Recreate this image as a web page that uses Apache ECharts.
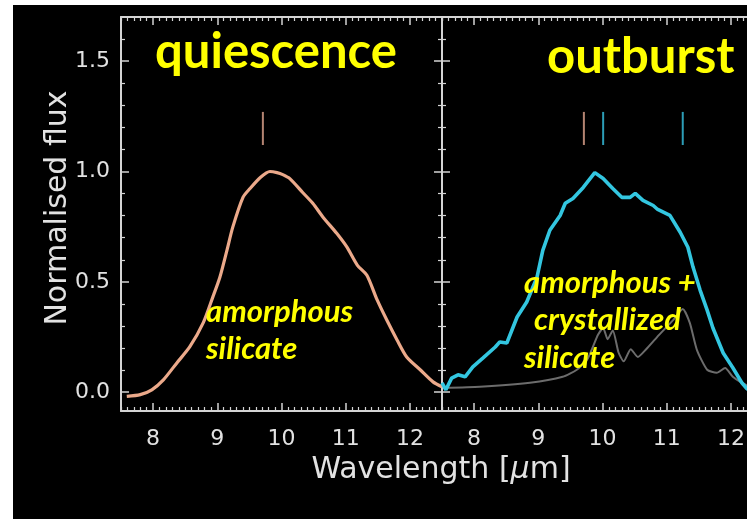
<!DOCTYPE html>
<html><head><meta charset="utf-8">
<script src="https://cdn.jsdelivr.net/npm/echarts@6/dist/echarts.min.js"></script>
<style>
html,body{margin:0;padding:0;background:#fff;}
#wrap{position:relative;width:747px;height:519px;background:#fff;overflow:hidden;}
#bg{position:absolute;left:13px;top:5px;right:0;bottom:0;background:#000;}
#chart{position:absolute;left:0;top:0;width:747px;height:519px;}
</style></head>
<body><div id="wrap"><div id="bg"></div><div id="chart"></div></div>
<script>
// ---- data ----
const quiescenceWave = [7.59,7.80,7.98,8.16,8.37,8.57,8.78,8.93,9.04,9.15,9.24,9.40,9.51,9.67,9.82,9.93,10.02,10.13,10.33,10.49,10.65,10.86,11.02,11.18,11.33,11.49,11.64,11.80,11.95,12.16,12.36,12.50];
const quiescenceFlux = [-0.019,-0.011,0.011,0.056,0.133,0.205,0.314,0.431,0.521,0.643,0.747,0.883,0.923,0.973,1.0,0.995,0.986,0.968,0.905,0.855,0.792,0.720,0.657,0.576,0.530,0.418,0.327,0.237,0.160,0.102,0.047,0.025];

const outburstWave = [7.50,7.56,7.65,7.75,7.86,7.98,8.14,8.33,8.40,8.51,8.67,8.82,8.98,9.07,9.18,9.34,9.42,9.54,9.70,9.88,10.01,10.16,10.30,10.43,10.51,10.63,10.79,10.86,11.05,11.21,11.33,11.41,11.52,11.63,11.72,11.88,12.03,12.17,12.25,12.40];
const outburstFlux = [0.042,0.011,0.064,0.079,0.070,0.115,0.156,0.205,0.228,0.223,0.341,0.409,0.521,0.643,0.734,0.801,0.856,0.878,0.928,0.995,0.968,0.923,0.883,0.883,0.901,0.869,0.846,0.828,0.801,0.725,0.657,0.567,0.463,0.372,0.291,0.178,0.111,0.043,0.016,-0.02];

const crystalWave = [7.52,8.09,8.87,9.38,9.60,9.76,9.85,9.93,10.01,10.08,10.16,10.25,10.33,10.44,10.55,10.68,10.85,11.10,11.25,11.36,11.47,11.63,11.78,11.91,12.03,12.17,12.35,12.50];
const crystalFlux = [0.020,0.025,0.043,0.070,0.102,0.147,0.205,0.260,0.291,0.240,0.280,0.180,0.140,0.195,0.160,0.195,0.250,0.327,0.377,0.314,0.192,0.102,0.088,0.110,0.070,0.043,0.020,0.010];

const featureQuiescence = [9.71];
const featureAmorphous = [9.71];
const featureCrystal = [10.01, 11.25];
const featureRange = [1.12, 1.27];

const xTickLabels = [8, 9, 10, 11, 12];
const yTickLabels = [0.0, 0.5, 1.0, 1.5];
const xMinorTicks = [];
for (let i = 75; i <= 125; i++) { if (i % 10 !== 0) xMinorTicks.push(i / 10); }
const yMinorTicks = [0.1,0.2,0.3,0.4,0.6,0.7,0.8,0.9,1.1,1.2,1.3,1.4,1.6];

const panelTitles = ['quiescence', 'outburst'];

// ---- style ----
const frameColor = '#d4d4d4';
const labelColor = '#e2e2e2';
const XMIN = 7.5, XMAX = 12.5, YMIN = -0.085, YMAX = 1.7;

function zip(a, b) { return a.map((v, i) => [v, b[i]]); }

const xAxes = [], yAxes = [];
[0, 1].forEach(g => {
  ['bottom', 'top'].forEach(pos => {
    xAxes.push({
      type: 'value', gridIndex: g, position: pos, min: XMIN, max: XMAX,
      axisLine: { show: true, onZero: false, lineStyle: { color: frameColor, width: 2 } },
      axisTick: { show: true, inside: true, length: 8, customValues: xTickLabels, lineStyle: { color: frameColor, width: 1.5 } },
      axisLabel: { show: pos === 'bottom', customValues: xTickLabels, color: labelColor, fontSize: 22, fontFamily: 'DejaVu Sans', margin: 17 },
      splitLine: { show: false }
    });
    xAxes.push({
      type: 'value', gridIndex: g, position: pos, min: XMIN, max: XMAX,
      axisLine: { show: false, onZero: false },
      axisTick: { show: true, inside: true, length: 4, customValues: xMinorTicks, lineStyle: { color: frameColor, width: 1.2 } },
      axisLabel: { show: false },
      splitLine: { show: false }
    });
  });
  ['left', 'right'].forEach(pos => {
    yAxes.push({
      type: 'value', gridIndex: g, position: pos, min: YMIN, max: YMAX,
      axisLine: { show: true, onZero: false, lineStyle: { color: frameColor, width: 2 } },
      axisTick: { show: true, inside: true, length: 8, customValues: yTickLabels, lineStyle: { color: frameColor, width: 1.5 } },
      axisLabel: { show: g === 0 && pos === 'left', customValues: yTickLabels, color: labelColor, fontSize: 22, fontFamily: 'DejaVu Sans', margin: 11,
        formatter: v => v.toFixed(1) },
      splitLine: { show: false }
    });
    yAxes.push({
      type: 'value', gridIndex: g, position: pos, min: YMIN, max: YMAX,
      axisLine: { show: false, onZero: false },
      axisTick: { show: true, inside: true, length: 4, customValues: yMinorTicks, lineStyle: { color: frameColor, width: 1.2 } },
      axisLabel: { show: false },
      splitLine: { show: false }
    });
  });
});
// grid 0: xAxis 0..3, yAxis 0..3 ; grid 1: xAxis 4..7, yAxis 4..7

function lineSeries(xi, yi, data, color, width, z, smooth) {
  return { type: 'line', xAxisIndex: xi, yAxisIndex: yi, data: data, showSymbol: false, symbol: 'none',
    smooth: smooth || false,
    lineStyle: { color: color, width: width }, clip: true, z: z || 3, animation: false };
}
function featureSeries(xi, yi, xs, color) {
  return xs.map(x => lineSeries(xi, yi, [[x, featureRange[0]], [x, featureRange[1]]], color, 2, 4));
}

const series = [
  lineSeries(0, 0, zip(quiescenceWave, quiescenceFlux), '#eba98a', 3.2, 3, 0.25),
  lineSeries(4, 4, zip(crystalWave, crystalFlux), '#6c6c6c', 2, 3, 0.2),
  lineSeries(4, 4, zip(outburstWave, outburstFlux), '#33c6e0', 3.6, 5),
  ...featureSeries(0, 0, featureQuiescence, '#b48472'),
  ...featureSeries(4, 4, featureAmorphous, '#b48472'),
  ...featureSeries(4, 4, featureCrystal, '#2c9db6')
];

const yellow = '#ffff00';
function yText(t, x, y, size, italic) {
  return { type: 'text', x: x, y: y, z: 100,
    style: { text: t, fill: yellow, font: (italic ? 'italic ' : '') + 'bold ' + size + 'px Lato', textAlign: 'left', textVerticalAlign: 'middle' } };
}

const option = {
  backgroundColor: 'transparent',
  animation: false,
  grid: [
    { left: 121, top: 17, width: 321, height: 394, show: false, containLabel: false, outerBoundsMode: 'none' },
    { left: 442, top: 17, width: 321, height: 394, show: false, containLabel: false, outerBoundsMode: 'none' }
  ],
  xAxis: xAxes,
  yAxis: yAxes,
  series: series,
  graphic: [
    { type: 'text', x: 58, y: 208, rotation: Math.PI / 2, z: 100,
      style: { text: 'Normalised flux', fill: labelColor, font: '30px "DejaVu Sans"', textAlign: 'center', textVerticalAlign: 'middle' } },
    { type: 'text', x: 441, y: 470, z: 100,
      style: { text: 'Wavelength [{i|μ}m]', fill: labelColor, font: '30px "DejaVu Sans"', textAlign: 'center', textVerticalAlign: 'middle',
        rich: { i: { fontStyle: 'italic', fontFamily: 'DejaVu Sans', fontSize: 30, fill: labelColor, color: labelColor } } } },
    yText(panelTitles[0], 155, 52, 49, false),
    yText(panelTitles[1], 547, 57, 49, false),
    yText('amorphous', 206, 312, 31, true),
    yText('silicate', 206, 349, 31, true),
    yText('amorphous +', 524, 283, 31, true),
    yText('crystallized', 534, 320, 31, true),
    yText('silicate', 524, 358, 31, true)
  ]
};
const chart = echarts.init(document.getElementById('chart'), null, { renderer: 'canvas' });
chart.setOption(option);
</script></body></html>
